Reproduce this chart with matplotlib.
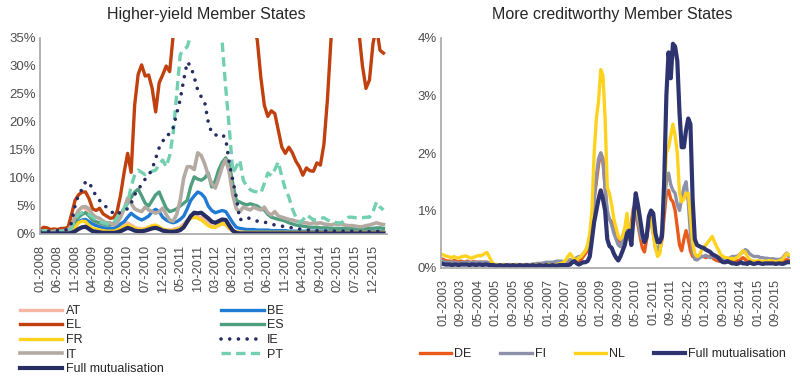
import matplotlib
matplotlib.use("Agg")
import matplotlib.pyplot as plt
from matplotlib.ticker import FuncFormatter
import pandas as pd

plt.rcParams['font.family'] = ['Liberation Sans', 'DejaVu Sans']

# ---- left panel: monthly, 01-2008 .. 03-2016 (%)
months_left = list(pd.date_range("2008-01-01", periods=99, freq="MS").strftime("%m-%Y"))

AT = [0.2, 0.2, 0.2, 0.2, 0.3, 0.2, 0.3, 0.3, 0.5, 1.5,
      3.0, 4.2, 4.8, 4.5, 3.5, 2.5, 2.0, 1.5, 1.2, 1.0,
      1.0, 0.9, 1.0, 1.3, 1.6, 2.0, 1.6, 1.2, 1.0, 0.9,
      1.0, 1.2, 1.3, 1.2, 1.0, 0.8, 0.7, 0.7, 0.8, 1.0,
      1.2, 1.8, 2.5, 3.0, 3.2, 3.0, 3.0, 2.5, 1.8, 1.4,
      1.2, 1.5, 1.8, 1.6, 1.0, 0.6, 0.4, 0.3, 0.3, 0.3,
      0.3, 0.3, 0.3, 0.3, 0.3, 0.3, 0.3, 0.3, 0.3, 0.3,
      0.3, 0.3, 0.3, 0.3, 0.3, 0.3, 0.3, 0.3, 0.3, 0.3,
      0.3, 0.3, 0.3, 0.3, 0.3, 0.3, 0.3, 0.3, 0.3, 0.3,
      0.3, 0.3, 0.3, 0.3, 0.3, 0.3, 0.3, 0.3, 0.3]
BE = [0.2, 0.2, 0.2, 0.2, 0.3, 0.2, 0.3, 0.3, 0.4, 0.8,
      1.5, 2.2, 2.5, 2.6, 2.2, 1.8, 1.5, 1.3, 1.1, 1.0,
      1.0, 1.0, 1.3, 1.8, 2.2, 3.0, 3.7, 3.2, 2.8, 2.5,
      2.8, 3.2, 4.0, 4.4, 4.0, 3.0, 2.5, 2.2, 2.0, 2.2,
      2.6, 3.2, 4.5, 6.0, 6.8, 7.5, 7.2, 6.5, 5.0, 4.2,
      3.8, 4.0, 4.2, 4.0, 3.0, 2.0, 1.2, 1.0, 0.9, 0.8,
      0.8, 0.8, 0.7, 0.7, 0.7, 0.7, 0.6, 0.6, 0.6, 0.6,
      0.6, 0.5, 0.5, 0.5, 0.5, 0.5, 0.5, 0.5, 0.5, 0.5,
      0.5, 0.5, 0.5, 0.4, 0.4, 0.4, 0.4, 0.4, 0.4, 0.4,
      0.4, 0.4, 0.4, 0.4, 0.4, 0.4, 0.5, 0.5, 0.4]
EL = [0.7, 1.2, 1.1, 0.8, 0.9, 0.8, 1.0, 1.0, 1.2, 3.5,
      6.0, 7.0, 7.5, 7.5, 6.3, 4.5, 4.2, 4.6, 3.6, 3.2,
      2.8, 2.9, 4.0, 7.0, 11.0, 14.4, 11.0, 23.0, 28.5, 30.2,
      28.2, 28.4, 26.0, 21.8, 27.0, 28.4, 30.0, 29.0, 35.5, 50.0,
      60.0, 70.0, 90.0, 110.0, 130.0, 150.0, 170.0, 200.0, 220.0, 240.0,
      200.0, 180.0, 150.0, 120.0, 100.0, 90.0, 80.0, 70.0, 60.0, 50.0,
      42.0, 37.0, 34.6, 28.0, 23.0, 21.0, 22.0, 21.5, 18.5, 15.5,
      14.4, 15.5, 14.5, 13.0, 12.0, 10.5, 11.8, 11.3, 11.2, 12.7,
      12.3, 16.0, 24.0, 34.5, 45.0, 60.0, 70.0, 75.0, 70.0, 60.0,
      48.0, 36.0, 30.0, 26.0, 27.5, 34.0, 37.0, 32.8, 32.3]
ES = [0.3, 0.3, 0.3, 0.3, 0.4, 0.3, 0.4, 0.4, 0.5, 1.0,
      2.0, 3.0, 3.5, 3.8, 3.2, 2.5, 2.2, 2.0, 1.8, 1.6,
      1.6, 1.8, 2.5, 3.5, 4.5, 5.5, 6.5, 7.5, 8.0, 6.8,
      5.5, 5.0, 6.0, 7.0, 7.5, 6.0, 4.6, 4.0, 4.2, 4.5,
      5.0, 5.5, 6.0, 8.5, 10.2, 9.8, 9.6, 10.0, 10.9, 8.4,
      9.5, 11.5, 12.8, 13.6, 12.5, 9.0, 6.0, 5.7, 5.4, 5.2,
      5.4, 5.2, 5.0, 4.5, 4.3, 3.5, 3.0, 2.8, 2.6, 2.5,
      2.3, 2.0, 1.8, 1.6, 1.5, 1.4, 1.3, 1.2, 1.2, 1.2,
      1.1, 1.1, 1.1, 1.0, 1.0, 1.0, 1.0, 1.0, 1.0, 1.0,
      1.0, 1.0, 1.0, 1.0, 1.0, 1.0, 1.1, 1.1, 1.0]
FR = [0.2, 0.2, 0.2, 0.2, 0.2, 0.2, 0.2, 0.2, 0.3, 0.5,
      1.2, 2.0, 2.3, 2.2, 1.5, 1.0, 0.9, 0.7, 0.6, 0.5,
      0.5, 0.5, 0.7, 1.0, 1.3, 1.6, 1.3, 1.0, 0.8, 0.8,
      0.9, 1.2, 1.5, 1.6, 1.3, 0.9, 0.7, 0.6, 0.6, 0.8,
      1.0, 1.5, 2.2, 2.8, 3.0, 2.8, 2.5, 2.0, 1.5, 1.2,
      1.2, 1.6, 1.9, 1.7, 1.0, 0.5, 0.4, 0.3, 0.3, 0.3,
      0.3, 0.3, 0.3, 0.3, 0.3, 0.3, 0.3, 0.3, 0.3, 0.3,
      0.3, 0.3, 0.3, 0.3, 0.3, 0.3, 0.3, 0.3, 0.3, 0.3,
      0.3, 0.3, 0.3, 0.3, 0.3, 0.3, 0.3, 0.3, 0.3, 0.3,
      0.3, 0.3, 0.3, 0.3, 0.3, 0.3, 0.3, 0.3, 0.3]
IE = [0.5, 0.5, 0.5, 0.5, 0.5, 0.6, 0.6, 0.7, 0.8, 2.0,
      5.0, 7.0, 8.0, 9.3, 9.3, 7.9, 6.8, 6.0, 5.2, 4.8,
      4.3, 3.6, 3.4, 4.0, 4.3, 4.5, 5.5, 7.0, 8.0, 8.8,
      9.8, 10.5, 11.6, 13.5, 15.4, 16.5, 17.7, 17.8, 19.0, 21.5,
      24.0, 27.5, 30.7, 30.0, 28.0, 25.7, 24.5, 23.5, 20.0, 18.0,
      17.7, 17.6, 17.8, 17.0, 12.7, 9.6, 6.6, 2.5, 2.8, 3.0,
      2.7, 2.5, 2.3, 2.1, 2.1, 2.0, 1.8, 1.6, 1.5, 1.4,
      1.3, 1.2, 1.1, 1.0, 0.9, 0.8, 0.7, 0.7, 0.6, 0.6,
      0.6, 0.6, 0.5, 0.5, 0.5, 0.5, 0.5, 0.5, 0.5, 0.5,
      0.5, 0.4, 0.4, 0.4, 0.4, 0.4, 0.5, 0.4, 0.4]
IT = [0.4, 0.5, 0.4, 0.4, 0.5, 0.4, 0.5, 0.6, 0.7, 1.5,
      3.0, 4.2, 4.8, 4.9, 4.5, 3.5, 3.0, 2.8, 2.3, 2.0,
      2.0, 1.6, 2.0, 3.0, 4.5, 6.4, 5.5, 4.5, 4.2, 4.0,
      4.8, 4.3, 4.0, 3.7, 4.0, 4.6, 3.5, 2.5, 2.3, 3.5,
      6.0, 10.0, 12.0, 12.0, 11.5, 14.5, 14.0, 12.5, 10.5, 9.0,
      8.2, 10.0, 12.0, 13.3, 11.0, 7.0, 4.5, 4.0, 4.8, 4.5,
      4.3, 4.8, 4.5, 4.3, 4.8, 3.8, 3.4, 4.0, 3.2, 3.0,
      2.8, 2.6, 2.5, 2.3, 2.2, 2.0, 2.0, 1.8, 2.0, 1.9,
      2.0, 1.8, 1.7, 1.6, 1.8, 1.7, 1.8, 1.6, 1.5, 1.5,
      1.4, 1.3, 1.3, 1.5, 1.6, 1.8, 2.0, 1.8, 1.7]
PT = [0.5, 0.6, 0.5, 0.5, 0.6, 0.5, 0.5, 0.6, 0.6, 1.0,
      2.5, 3.5, 3.8, 4.0, 3.5, 3.0, 2.5, 2.2, 2.0, 1.8,
      1.8, 2.0, 3.0, 4.0, 4.5, 5.5, 8.5, 10.5, 11.4, 11.0,
      10.6, 10.9, 11.2, 11.4, 12.5, 13.2, 12.0, 14.0, 18.0, 25.0,
      32.0, 33.0, 33.4, 35.5, 40.0, 45.0, 50.0, 55.0, 55.0, 50.0,
      45.0, 38.0, 34.0, 26.0, 19.0, 10.9, 12.0, 13.2, 9.6, 8.5,
      7.9, 7.6, 7.5, 7.3, 9.0, 10.9, 10.4, 11.5, 12.9, 10.2,
      8.0, 6.6, 4.5, 3.0, 2.0, 2.5, 3.4, 3.0, 2.5, 2.6,
      2.8, 2.9, 2.5, 2.2, 2.1, 2.0, 2.0, 2.5, 3.0, 3.0,
      2.9, 2.9, 2.9, 3.0, 3.0, 4.0, 5.7, 4.8, 4.3]
FULL_L = [0.1, 0.1, 0.1, 0.1, 0.1, 0.1, 0.1, 0.1, 0.1, 0.2,
          0.5, 0.9, 1.2, 1.3, 0.9, 0.5, 0.4, 0.3, 0.2, 0.2,
          0.2, 0.2, 0.3, 0.5, 0.8, 1.1, 0.9, 0.6, 0.5, 0.5,
          0.6, 0.8, 1.0, 1.1, 0.9, 0.6, 0.5, 0.4, 0.4, 0.5,
          0.7, 1.2, 2.2, 3.2, 3.8, 3.7, 3.8, 3.3, 2.8, 2.2,
          2.0, 2.3, 2.6, 2.5, 1.5, 0.6, 0.2, 0.1, 0.1, 0.1,
          0.1, 0.1, 0.1, 0.1, 0.1, 0.1, 0.1, 0.1, 0.1, 0.1,
          0.1, 0.1, 0.1, 0.1, 0.1, 0.1, 0.1, 0.1, 0.1, 0.1,
          0.1, 0.1, 0.1, 0.1, 0.1, 0.1, 0.1, 0.1, 0.1, 0.1,
          0.1, 0.1, 0.1, 0.1, 0.1, 0.1, 0.1, 0.1, 0.1]

# ---- right panel: monthly, 01-2003 .. 03-2016 (%)
months_right = list(pd.date_range("2003-01-01", periods=159, freq="MS").strftime("%m-%Y"))

DE = [0.15, 0.13, 0.12, 0.12, 0.11, 0.13, 0.12, 0.10, 0.12, 0.11,
      0.10, 0.12, 0.10, 0.10, 0.11, 0.10, 0.10, 0.10, 0.10, 0.10,
      0.10, 0.08, 0.06, 0.05, 0.05, 0.04, 0.05, 0.05, 0.04, 0.05,
      0.05, 0.04, 0.05, 0.05, 0.04, 0.05, 0.05, 0.04, 0.05, 0.05,
      0.04, 0.05, 0.05, 0.04, 0.05, 0.05, 0.04, 0.05, 0.05, 0.05,
      0.05, 0.05, 0.05, 0.06, 0.06, 0.06, 0.06, 0.08, 0.10, 0.10,
      0.12, 0.10, 0.12, 0.14, 0.20, 0.25, 0.30, 0.50, 0.80, 1.20,
      1.50, 1.80, 2.00, 1.90, 1.40, 0.90, 0.85, 0.80, 0.70, 0.60,
      0.50, 0.45, 0.55, 0.65, 0.60, 0.50, 0.80, 1.05, 0.95, 0.75,
      0.55, 0.35, 0.28, 0.50, 0.85, 0.90, 0.65, 0.35, 0.25, 0.30,
      0.50, 0.90, 1.30, 1.35, 1.20, 1.15, 1.00, 0.70, 0.40, 0.30,
      0.50, 0.65, 0.50, 0.30, 0.20, 0.18, 0.20, 0.22, 0.20, 0.20,
      0.18, 0.20, 0.20, 0.18, 0.15, 0.13, 0.12, 0.12, 0.10, 0.10,
      0.10, 0.10, 0.12, 0.13, 0.13, 0.12, 0.15, 0.18, 0.15, 0.12,
      0.10, 0.10, 0.10, 0.11, 0.10, 0.10, 0.10, 0.11, 0.10, 0.10,
      0.10, 0.10, 0.10, 0.11, 0.10, 0.11, 0.12, 0.15, 0.13]
FI = [0.12, 0.10, 0.10, 0.10, 0.10, 0.10, 0.10, 0.08, 0.09, 0.10,
      0.10, 0.10, 0.10, 0.09, 0.10, 0.10, 0.10, 0.10, 0.10, 0.10,
      0.10, 0.08, 0.07, 0.06, 0.06, 0.06, 0.05, 0.06, 0.06, 0.05,
      0.06, 0.06, 0.05, 0.06, 0.06, 0.06, 0.05, 0.06, 0.06, 0.06,
      0.06, 0.07, 0.07, 0.08, 0.08, 0.08, 0.09, 0.10, 0.10, 0.10,
      0.10, 0.11, 0.12, 0.12, 0.12, 0.11, 0.10, 0.12, 0.15, 0.12,
      0.15, 0.18, 0.20, 0.20, 0.25, 0.30, 0.35, 0.50, 0.80, 1.20,
      1.60, 1.90, 2.00, 1.85, 1.40, 1.00, 0.85, 0.75, 0.60, 0.50,
      0.40, 0.37, 0.50, 0.60, 0.66, 0.55, 0.70, 0.95, 1.00, 0.80,
      0.60, 0.50, 0.50, 0.60, 0.75, 0.80, 0.60, 0.40, 0.30, 0.40,
      0.70, 1.10, 1.50, 1.65, 1.45, 1.35, 1.30, 1.10, 1.00, 1.20,
      1.40, 1.50, 1.15, 0.60, 0.30, 0.15, 0.14, 0.17, 0.20, 0.20,
      0.22, 0.20, 0.18, 0.20, 0.20, 0.18, 0.17, 0.17, 0.16, 0.16,
      0.17, 0.17, 0.20, 0.20, 0.20, 0.22, 0.25, 0.28, 0.32, 0.30,
      0.25, 0.22, 0.20, 0.20, 0.20, 0.18, 0.18, 0.17, 0.17, 0.16,
      0.16, 0.16, 0.15, 0.15, 0.15, 0.17, 0.22, 0.26, 0.20]
NL = [0.23, 0.21, 0.20, 0.19, 0.18, 0.20, 0.18, 0.17, 0.19, 0.20,
      0.21, 0.20, 0.18, 0.17, 0.19, 0.20, 0.22, 0.21, 0.23, 0.25,
      0.27, 0.20, 0.12, 0.07, 0.06, 0.05, 0.05, 0.06, 0.05, 0.05,
      0.04, 0.05, 0.05, 0.06, 0.05, 0.05, 0.04, 0.05, 0.05, 0.04,
      0.05, 0.05, 0.06, 0.05, 0.05, 0.04, 0.05, 0.05, 0.06, 0.05,
      0.04, 0.05, 0.06, 0.07, 0.08, 0.10, 0.14, 0.20, 0.25, 0.20,
      0.15, 0.14, 0.18, 0.20, 0.25, 0.30, 0.40, 0.60, 1.00, 2.00,
      2.60, 2.90, 3.45, 3.35, 2.60, 1.40, 1.30, 1.10, 0.85, 0.70,
      0.55, 0.50, 0.55, 0.70, 0.95, 0.50, 0.70, 1.00, 1.15, 0.95,
      0.75, 0.60, 0.50, 0.60, 0.85, 0.90, 0.60, 0.35, 0.20, 0.25,
      0.60, 1.20, 2.00, 2.10, 2.30, 2.50, 2.30, 2.00, 1.30, 1.15,
      1.20, 1.30, 1.30, 0.90, 0.45, 0.25, 0.20, 0.22, 0.30, 0.35,
      0.40, 0.45, 0.50, 0.55, 0.45, 0.37, 0.30, 0.22, 0.20, 0.18,
      0.18, 0.15, 0.17, 0.15, 0.18, 0.20, 0.25, 0.30, 0.28, 0.20,
      0.15, 0.13, 0.12, 0.12, 0.13, 0.12, 0.11, 0.12, 0.12, 0.13,
      0.12, 0.12, 0.11, 0.12, 0.13, 0.15, 0.20, 0.25, 0.23]
FULL_R = [0.07, 0.06, 0.06, 0.06, 0.05, 0.06, 0.06, 0.05, 0.06, 0.06,
          0.06, 0.06, 0.05, 0.06, 0.06, 0.05, 0.06, 0.06, 0.05, 0.06,
          0.06, 0.05, 0.05, 0.05, 0.04, 0.04, 0.05, 0.04, 0.04, 0.05,
          0.04, 0.04, 0.05, 0.04, 0.04, 0.05, 0.04, 0.04, 0.05, 0.04,
          0.04, 0.05, 0.04, 0.04, 0.05, 0.04, 0.04, 0.05, 0.04, 0.04,
          0.05, 0.04, 0.04, 0.05, 0.05, 0.05, 0.05, 0.05, 0.06, 0.10,
          0.12, 0.08, 0.06, 0.08, 0.10, 0.10, 0.12, 0.20, 0.50, 0.80,
          1.00, 1.20, 1.35, 1.20, 1.00, 0.50, 0.38, 0.35, 0.25, 0.18,
          0.13, 0.20, 0.30, 0.40, 0.60, 0.65, 0.40, 0.90, 1.30, 1.10,
          0.85, 0.60, 0.45, 0.55, 0.90, 1.00, 0.95, 0.60, 0.45, 0.45,
          0.55, 1.50, 3.00, 3.75, 3.30, 3.90, 3.85, 3.60, 2.70, 2.10,
          2.10, 2.40, 2.60, 2.50, 1.20, 0.50, 0.40, 0.38, 0.36, 0.35,
          0.32, 0.30, 0.28, 0.24, 0.22, 0.20, 0.17, 0.12, 0.10, 0.10,
          0.12, 0.10, 0.08, 0.08, 0.07, 0.08, 0.10, 0.08, 0.08, 0.07,
          0.10, 0.08, 0.07, 0.08, 0.09, 0.08, 0.07, 0.08, 0.08, 0.08,
          0.08, 0.08, 0.07, 0.08, 0.08, 0.07, 0.08, 0.10, 0.10]

NAVY = "#262d63"
TXT = "#4d4d4d"


def pct(v, pos):
    return "%d%%" % round(v)


def style_axis(ax):
    for s in ["top", "right"]:
        ax.spines[s].set_visible(False)
    for s in ["left", "bottom"]:
        ax.spines[s].set_color("#a6a6a6")
        ax.spines[s].set_linewidth(1.2)
    ax.tick_params(length=0, colors=TXT)
    ax.tick_params(axis="y", labelsize=9.5, pad=3)
    ax.tick_params(axis="x", labelsize=9.2, pad=8, rotation=90)
    ax.yaxis.set_major_formatter(FuncFormatter(pct))


fig = plt.figure(figsize=(8, 3.8), dpi=100)

ax1 = fig.add_axes([40 / 800, 1 - 234 / 380, 347 / 800, 196 / 380])
x1 = list(range(len(months_left)))
ax1.plot(x1, AT, color="#f5b7a1", lw=2.4, label="AT")
ax1.plot(x1, BE, color="#1f7bd4", lw=2.4, label="BE")
ax1.plot(x1, EL, color="#c0400e", lw=2.4, label="EL")
ax1.plot(x1, ES, color="#4f9e80", lw=2.4, label="ES")
ax1.plot(x1, FR, color="#ffd21e", lw=2.4, label="FR")
ax1.plot(x1, IT, color="#b4aaa2", lw=2.6, label="IT")
ax1.plot(x1, PT, color="#72d0b0", lw=2.4, ls=(0, (2.8, 1.6)), label="PT")
ax1.plot(x1, IE, color=NAVY, lw=2.6, ls=(0, (0.01, 2.4)),
         dash_capstyle="round", label="IE")
ax1.plot(x1, FULL_L, color=NAVY, lw=3.0, label="Full mutualisation")
ax1.set_xlim(0, 99)
ax1.set_ylim(0, 35)
ax1.set_yticks(range(0, 36, 5))
ax1.set_xticks(x1[::5])
ax1.set_xticklabels(months_left[::5])
style_axis(ax1)

ax2 = fig.add_axes([441 / 800, 1 - 268 / 380, 349 / 800, 230 / 380])
x2 = list(range(len(months_right)))
ax2.plot(x2, DE, color="#ea5a1a", lw=2.4, label="DE")
ax2.plot(x2, FI, color="#8c90a8", lw=2.4, label="FI")
ax2.plot(x2, NL, color="#ffd21e", lw=2.4, label="NL")
ax2.plot(x2, FULL_R, color="#2d3470", lw=3.0, label="Full mutualisation")
ax2.set_xlim(-1, 158.5)
ax2.set_ylim(0, 4)
ax2.set_yticks(range(0, 5))
ax2.set_xticks(x2[::8])
ax2.set_xticklabels(months_right[::8])
style_axis(ax2)

fig.text(206 / 800, 1 - 15 / 380, "Higher-yield Member States", ha="center",
         va="center", fontsize=11.5, color="#262626")
fig.text(612 / 800, 1 - 15 / 380, "More creditworthy Member States", ha="center",
         va="center", fontsize=11.5, color="#262626")

# legends
h, l = ax1.get_legend_handles_labels()
order = ["AT", "EL", "FR", "IT", "Full mutualisation", "BE", "ES", "IE", "PT"]
hh = [h[l.index(k)] for k in order]
fig.legend(hh, order, loc="upper left", bbox_to_anchor=(20 / 800, 1 - 305 / 380),
           ncol=2, frameon=False, fontsize=9, handlelength=3.4, handletextpad=0.25,
           labelspacing=0.2, columnspacing=4.6, borderaxespad=0, borderpad=0,
           labelcolor="#262626")
fig.legend(*ax2.get_legend_handles_labels(), loc="center left",
           bbox_to_anchor=(420 / 800, 1 - 354 / 380), ncol=4, frameon=False,
           fontsize=9, handlelength=2.5, handletextpad=0.25, columnspacing=2.3,
           borderaxespad=0, borderpad=0, labelcolor="#262626")

fig.savefig("out.png", dpi=100)
